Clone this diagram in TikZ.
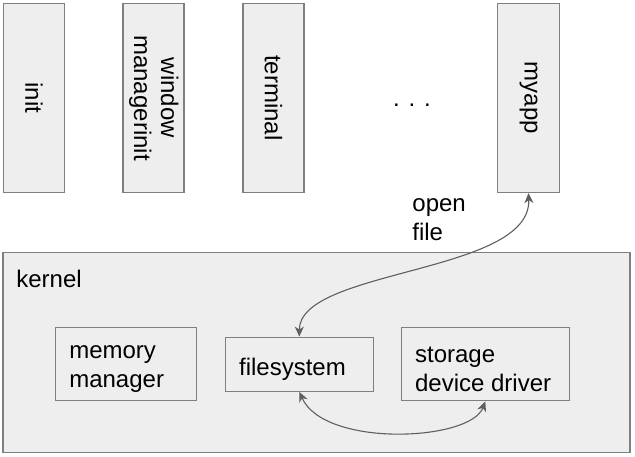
\documentclass[tikz,border=0pt]{standalone}
\usepackage{fontspec}
\setmainfont{Liberation Sans}
\usepackage{xcolor}
\usepackage{tikz}
\usetikzlibrary{arrows.meta}
\definecolor{boxfill}{HTML}{EEEEEE}
\definecolor{boxline}{HTML}{7F7F7F}
\definecolor{arrowgray}{HTML}{5F5F5F}
\tikzset{every node/.append style={font=\fontsize{12}{14.5}\selectfont}}
\tikzset{
  blk/.style={draw=boxline, fill=boxfill, line width=0.6pt, inner sep=0pt},
  proc/.style={blk, minimum width=30.5pt, minimum height=94.5pt},
  txt/.style={anchor=west, align=left, inner sep=0pt, xshift=7pt, yshift=-2.5pt}
}

\begin{document}
\begin{tikzpicture}[x=0.5pt, y=-0.5pt, >={Stealth[length=5pt, width=4.5pt, inset=1.5pt]}]
    \useasboundingbox (0,0) rectangle (635,456);
    % user space
    \node[proc] (init) at (34,98) {\rotatebox{-90}{init}};
    \node[proc] (wm) at (153.5,98) {\rotatebox{-90}{\begin{tabular}{@{}c@{}}window\\[-1pt]managerinit\end{tabular}}};
    \node[proc] (term) at (273.5,98) {\rotatebox{-90}{terminal}};
    \node[anchor=base] (dots) at (412,106) {. . .};
    \node[proc, minimum width=31pt] (myapp) at (528.5,98) {\rotatebox{-90}{myapp}};
    % kernel
    \node[blk, minimum width=313.5pt, minimum height=100pt] (kernel) at (316.5,352.5) {};
    \node[anchor=base west, inner sep=0pt] (klabel) at (16,287) {kernel};
    \node[blk, minimum width=70.5pt, minimum height=36.5pt] (mem) at (126,364) {};
    \node[txt] (memtext) at (mem.west) {memory\\manager};
    \node[blk, minimum width=74pt, minimum height=27pt] (fs) at (299.3,364.2) {};
    \node[txt] (fstext) at (fs.west) {filesystem};
    \node[blk, minimum width=84pt, minimum height=36.5pt] (drv) at (485.3,364.3) {};
    \node[txt] (drvtext) at (drv.west) {storage\\device driver};
    % calls
    \draw[arrowgray, line width=0.55pt, <->] (fs.north) .. controls +(0,-68) and +(3,81) .. (myapp.south);
    \node[anchor=north west, inner sep=0pt, align=left] (call) at (412,198) {open\\file};
    \draw[arrowgray, line width=0.55pt, <->] (fs.south) .. controls +(25,56) and +(-15,40) .. (drv.south);
\end{tikzpicture}
\end{document}
